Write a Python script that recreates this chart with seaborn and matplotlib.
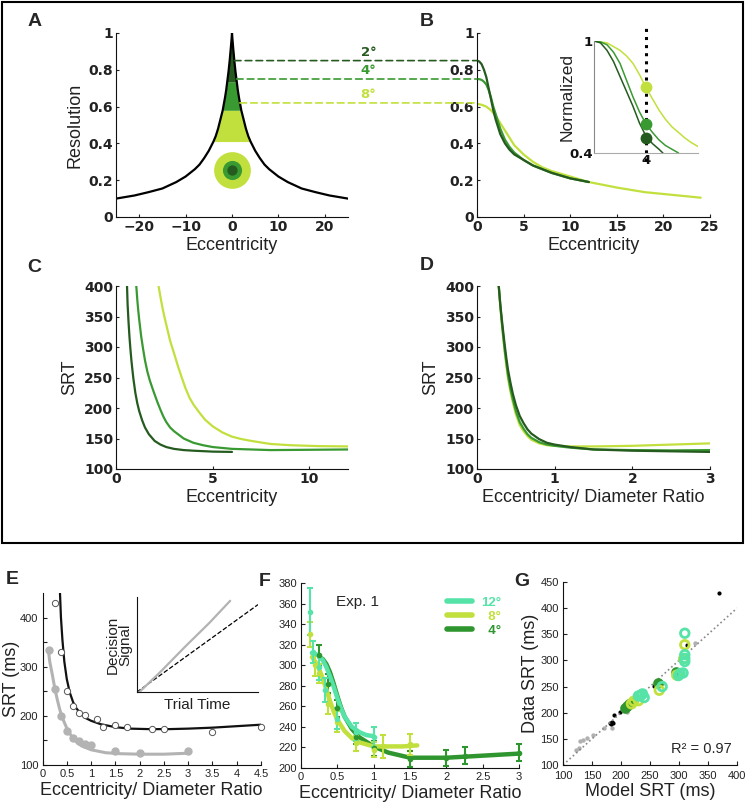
import numpy as np
import matplotlib
matplotlib.use("Agg")
import matplotlib.pyplot as plt
from matplotlib.patches import ConnectionPatch, Rectangle
from matplotlib.lines import Line2D
import seaborn as sns

# colours
DARK = "#255b1f"
MID = "#3a9a32"
LIGHT = "#c1e03d"
TURQ = "#55e3a8"
F_GREEN = "#2f962f"
GREY = "#b3b3b3"

# ---- panel A: resolution vs eccentricity (positive half, curve is symmetric)
res_ecc = [0, 0.1, 0.25, 0.5, 0.75, 1, 1.25, 1.5, 2, 2.5, 3, 3.5, 4, 5, 6, 7, 8, 10, 12, 15, 18, 21, 25]
res_val = [1.0, 0.965, 0.92, 0.85, 0.79, 0.74, 0.69, 0.65, 0.58, 0.53, 0.48, 0.44, 0.41, 0.36,
           0.32, 0.285, 0.26, 0.22, 0.19, 0.155, 0.135, 0.117, 0.10]
band_bottom = [0.41, 0.58, 0.735]
band_top = [0.58, 0.735, 1.0]
band_colors = [LIGHT, MID, DARK]
size_labels = ["2°", "4°", "8°"]
size_levels = [0.85, 0.75, 0.62]
size_colors = [DARK, MID, LIGHT]
level_start = [0.5, 0.95, 1.7]
fovea_xy = (0, 0.255)
fovea_size = [700, 190, 55]

# ---- panel B: resolution seen by each stimulus size
b_dark_x = [0, 0.25, 0.5, 0.75, 1, 1.25, 1.5, 1.75, 2, 2.5, 3, 3.5, 4, 5, 6, 7, 8, 10, 12]
b_dark_y = [0.85, 0.845, 0.83, 0.80, 0.76, 0.70, 0.64, 0.58, 0.53, 0.45, 0.40, 0.365, 0.34,
            0.31, 0.28, 0.26, 0.24, 0.21, 0.19]
b_mid_x = [0, 0.25, 0.5, 0.75, 1, 1.25, 1.5, 1.75, 2, 2.5, 3, 3.5, 4, 5, 6, 7, 8, 10, 12]
b_mid_y = [0.75, 0.749, 0.745, 0.735, 0.72, 0.69, 0.65, 0.60, 0.56, 0.48, 0.42, 0.38, 0.35,
           0.31, 0.28, 0.26, 0.24, 0.21, 0.19]
b_light_x = [0, 0.5, 1, 1.5, 2, 2.5, 3, 3.5, 4, 5, 6, 7, 8, 10, 12, 15, 18, 21, 24]
b_light_y = [0.615, 0.61, 0.60, 0.58, 0.55, 0.51, 0.47, 0.43, 0.39, 0.34, 0.30, 0.27,
             0.25, 0.22, 0.19, 0.16, 0.135, 0.12, 0.105]
# inset: normalized
in_dark_x = [0, 0.5, 1, 1.5, 2, 2.5, 3, 3.5, 4, 4.5, 5, 5.3]
in_dark_y = [1, 0.99, 0.95, 0.89, 0.81, 0.73, 0.65, 0.56, 0.49, 0.45, 0.42, 0.40]
in_mid_x = [0, 0.5, 1, 1.5, 2, 2.5, 3, 3.5, 4, 4.5, 5, 5.5, 6, 6.5]
in_mid_y = [1, 0.995, 0.98, 0.94, 0.88, 0.79, 0.70, 0.62, 0.555, 0.51, 0.47, 0.44, 0.42, 0.40]
in_light_x = [0, 1, 2, 2.5, 3, 3.5, 4, 4.5, 5, 5.5, 6, 6.5, 7, 7.5, 8]
in_light_y = [1, 0.99, 0.95, 0.92, 0.88, 0.82, 0.75, 0.69, 0.63, 0.58, 0.54, 0.51, 0.48, 0.455, 0.435]
probe_ecc = 4
probe_vals = [0.755, 0.555, 0.48]
probe_colors = [LIGHT, MID, DARK]

# ---- panel C: SRT vs eccentricity
c_dark_x = [0.57, 0.6, 0.65, 0.7, 0.75, 0.8, 0.85, 0.9, 1.0, 1.1, 1.2, 1.35, 1.5, 1.7, 2.0,
            2.3, 2.6, 3.0, 3.5, 4.0, 5.0, 6.0]
c_dark_y = [400, 370, 340, 315, 295, 277, 262, 248, 225, 208, 195, 180, 168, 157, 146,
            140, 136, 133, 131, 130, 128.5, 128]
c_mid_x = [1.05, 1.1, 1.15, 1.2, 1.3, 1.4, 1.5, 1.62, 1.75, 1.9, 2.0, 2.15, 2.3, 2.45, 2.6,
           2.8, 3.0, 3.25, 3.5, 4.0, 4.5, 5.0, 6.0, 7.0, 8.0, 10.0, 12.0]
c_mid_y = [400, 378, 360, 345, 318, 297, 278, 260, 245, 231, 222, 209, 197, 186, 177,
           168, 162, 156, 150, 143, 139, 136, 133, 132, 131, 131.5, 132]
c_light_x = [2.2, 2.3, 2.4, 2.5, 2.65, 2.8, 3.0, 3.2, 3.4, 3.6, 3.8, 4.0, 4.3, 4.6, 5.0,
             5.5, 6.0, 6.5, 7.0, 8.0, 9.0, 10.5, 12.0]
c_light_y = [400, 382, 365, 350, 330, 310, 290, 269, 250, 232, 217, 206, 193, 181, 170,
             160, 153, 149, 146, 141, 139, 137.5, 137]

# ---- panel D: SRT vs eccentricity / diameter
d_x = [0.28, 0.3, 0.32, 0.34, 0.36, 0.38, 0.40, 0.43, 0.46, 0.5, 0.55, 0.6, 0.65, 0.7, 0.8,
       0.9, 1.0, 1.2, 1.5, 2.0, 2.5, 3.0]
d_dark_y = [400, 370, 345, 322, 300, 280, 262, 242, 224, 205, 187, 175, 165, 158, 149,
            143, 140, 136, 132, 130, 129, 128]
d_mid_y = [400, 368, 340, 315, 292, 272, 253, 232, 215, 195, 177, 166, 157, 151, 144,
           140, 138, 135, 132, 131, 130.5, 131]
d_light_y = [400, 366, 338, 312, 288, 267, 248, 227, 210, 190, 172, 162, 154, 148, 142,
             139, 138, 137, 137, 138, 140, 142]

# ---- panel E: monkey data and fits
e_open_x = [0.25, 0.375, 0.5, 0.625, 0.75, 0.875, 1.125, 1.25, 1.5, 1.75, 2.25, 2.5, 3.5, 4.5]
e_open_y = [429, 330, 250, 221, 206, 201, 193, 178, 182, 178, 174, 174, 167, 178]
e_fill_x = [0.125, 0.25, 0.375, 0.5, 0.625, 0.75, 0.875, 1.0, 1.5, 2.0, 3.0]
e_fill_y = [334, 255, 199, 170, 155, 149, 142, 141, 129, 125, 128]
e_fit1_x = [0.36, 0.38, 0.41, 0.45, 0.5, 0.56, 0.63, 0.7, 0.8, 0.9, 1.0, 1.2, 1.5, 1.8,
            2.2, 2.6, 3.0, 3.5, 4.0, 4.5]
e_fit1_y = [450, 400, 355, 310, 275, 248, 228, 215, 203, 195, 190, 183, 177, 174,
            173, 173, 174, 176, 179, 182]
e_fit2_x = [0.12, 0.15, 0.2, 0.25, 0.3, 0.35, 0.4, 0.5, 0.6, 0.7, 0.8, 1.0, 1.3, 1.6, 2.0, 2.5, 3.0]
e_fit2_y = [334, 310, 285, 258, 235, 215, 198, 175, 158, 147, 139, 131, 125, 123, 122, 122, 124]
ei_grey_x = [0.02, 0.2, 0.4, 0.6, 0.77]
ei_grey_y = [0.0, 0.22, 0.48, 0.73, 0.96]
ei_dash_x = [0, 1]
ei_dash_y = [0, 0.92]

# ---- panel F: Exp. 1
f12_x = [0.125, 0.167, 0.25, 0.333, 0.5, 0.75, 1.0]
f12_y = [352, 313, 298, 276, 248, 235, 230]
f12_e = [23, 11, 12, 12, 10, 9, 10]
f12_fx = [0.15, 0.2, 0.25, 0.3, 0.35, 0.4, 0.45, 0.5, 0.55, 0.6, 0.7, 0.8, 0.9, 1.0]
f12_fy = [312, 311, 309, 305, 298, 289, 279, 268, 258, 250, 240, 235, 232, 231]
f8_x = [0.125, 0.19, 0.25, 0.375, 0.5, 0.75, 1.0, 1.125, 1.5]
f8_y = [330, 300, 292, 262, 245, 224, 218, 221, 223]
f8_e = [12, 10, 9, 9, 10, 7, 7, 11, 10]
f8_fx = [0.15, 0.2, 0.25, 0.3, 0.35, 0.4, 0.45, 0.5, 0.6, 0.7, 0.8, 1.0, 1.2, 1.4, 1.6]
f8_fy = [308, 303, 296, 287, 276, 265, 255, 247, 236, 229, 225, 221, 221, 221, 222]
f4_x = [0.25, 0.375, 0.5, 0.75, 1.0, 1.5, 2.0, 2.25, 3.0]
f4_y = [310, 282, 258, 230, 219, 209, 210, 212, 215]
f4_e = [10, 9, 8, 7, 7, 8, 8, 8, 8]
f4_fx = [0.25, 0.3, 0.35, 0.4, 0.45, 0.5, 0.55, 0.6, 0.7, 0.8, 1.0, 1.2, 1.5, 2.0, 2.5, 3.0]
f4_fy = [308, 306, 301, 293, 282, 270, 259, 250, 238, 230, 221, 215, 210, 210, 212, 214]
f_labels = ["12°", "  8°", "  4°"]
f_colors = [TURQ, LIGHT, F_GREEN]

# ---- panel G: model vs data
g_black_x = [369, 313, 257, 222, 205, 198, 188, 184, 181, 187, 183]
g_black_y = [429, 330, 252, 224, 208, 202, 196, 183, 180, 181, 178]
g_grey_x = [328, 273, 211, 185, 171, 151, 141, 135, 129, 127, 122]
g_grey_y = [333, 256, 202, 170, 171, 157, 151, 148, 145, 132, 129]
g_turq_x = [310, 310, 310, 310, 302, 307, 299, 271, 237, 240, 230, 234]
g_turq_y = [352, 311, 304, 298, 275, 276, 271, 250, 236, 229, 232, 233]
g_yel_x = [310, 308, 296, 266, 222, 230, 218]
g_yel_y = [330, 303, 272, 243, 222, 223, 217]
g_grn_x = [294, 264, 214, 210, 217, 207]
g_grn_y = [278, 256, 217, 212, 219, 209]
g_ref = [100, 400]

sns.set_style("ticks")
plt.rcParams['font.family'] = ['Liberation Sans', 'DejaVu Sans']
plt.rcParams['xtick.direction'] = 'in'
plt.rcParams['ytick.direction'] = 'in'
plt.rcParams['axes.edgecolor'] = '#111111'
plt.rcParams['axes.labelcolor'] = '#222222'

W, H = 748, 807
fig = plt.figure(figsize=(W / 100, H / 100), dpi=100)


def px_axes(left, top, right, bottom):
    return fig.add_axes([left / W, 1 - bottom / H, (right - left) / W, (bottom - top) / H])


def bold_ticks(ax, size=10):
    for t in ax.get_xticklabels() + ax.get_yticklabels():
        t.set_fontweight('bold')
        t.set_fontfamily('DejaVu Sans')
        t.set_fontsize(size)


def style_top(ax, xl, yl=None):
    sns.despine(ax=ax)
    ax.tick_params(length=2.5, width=0.8, colors='#222222', pad=2)
    bold_ticks(ax)
    ax.set_xlabel(xl, fontsize=13, labelpad=2)
    if yl:
        ax.set_ylabel(yl, fontsize=13, labelpad=4)


def style_bottom(ax):
    sns.despine(ax=ax)
    ax.tick_params(labelsize=8, length=3, width=0.8, colors='#222222', pad=3)


def line(ax, x, y, c, lw=1.6, **kw):
    sns.lineplot(x=x, y=y, ax=ax, color=c, lw=lw, estimator=None, sort=False, legend=False, **kw)


# ---------------- A
axA = px_axes(116, 33, 348, 217)
e_full = np.concatenate([-np.array(res_ecc[::-1]), np.array(res_ecc[1:])])
r_full = np.concatenate([np.array(res_val[::-1]), np.array(res_val[1:])])
for lo, hi, c in zip(band_bottom, band_top, band_colors):
    axA.fill_between(e_full, lo, np.minimum(r_full, hi), where=r_full >= lo,
                     interpolate=True, color=c, lw=0)
line(axA, e_full, r_full, 'black', lw=1.6)
for s, c in zip(fovea_size, [LIGHT, MID, DARK]):
    axA.scatter([fovea_xy[0]], [fovea_xy[1]], s=s, color=c, lw=0, zorder=3)
axA.set_xlim(-25, 25)
axA.set_ylim(0, 1)
axA.set_xticks([-20, -10, 0, 10, 20])
axA.set_xticklabels(["\u221220", "\u221210", "0", "10", "20"])
axA.set_yticks([0, 0.2, 0.4, 0.6, 0.8, 1])
axA.set_yticklabels(["0", "0.2", "0.4", "0.6", "0.8", "1"])
style_top(axA, "Eccentricity", "Resolution")

# ---------------- B
axB = px_axes(477, 33, 710, 217)
line(axB, b_light_x, b_light_y, LIGHT)
line(axB, b_mid_x, b_mid_y, MID)
line(axB, b_dark_x, b_dark_y, DARK)
axB.set_xlim(0, 25)
axB.set_ylim(0, 1)
axB.set_xticks([0, 5, 10, 15, 20, 25])
axB.set_yticks([0, 0.2, 0.4, 0.6, 0.8, 1])
axB.set_yticklabels(["0", "0.2", "0.4", "0.6", "0.8", "1"])
style_top(axB, "Eccentricity")

for lab, lvl, x0, c in zip(size_labels, size_levels, level_start, size_colors):
    con = ConnectionPatch(xyA=(x0, lvl), coordsA=axA.transData, xyB=(0, lvl),
                          coordsB=axB.transData, ls=(0, (4, 2.5)), color=c, lw=1.2)
    fig.add_artist(con)
    axA.text(29.4, lvl + 0.045, lab, color=c, fontsize=9.5, fontweight='bold',
             family='DejaVu Sans', ha='center', va='center', clip_on=False)

axIn = px_axes(594, 41, 698, 153)
line(axIn, in_light_x, in_light_y, LIGHT, lw=1.1)
line(axIn, in_mid_x, in_mid_y, MID, lw=1.1)
line(axIn, in_dark_x, in_dark_y, DARK, lw=1.1)
axIn.axvline(probe_ecc, ymin=-0.07, ymax=1.12, color='black', ls=':', lw=2.2, clip_on=False)
for v, c in zip(probe_vals, probe_colors):
    axIn.plot([probe_ecc], [v], 'o', color=c, ms=7.5, zorder=4)
axIn.set_xlim(0, 8)
axIn.set_ylim(0.4, 1)
axIn.set_xticks([probe_ecc])
axIn.set_yticks([0.4, 1])
axIn.set_yticklabels(["0.4", "1"])
sns.despine(ax=axIn)
axIn.spines['bottom'].set_color('#aaaaaa')
axIn.spines['left'].set_color('#888888')
axIn.tick_params(length=0, pad=1, colors='#111111')
bold_ticks(axIn, 9.5)
axIn.set_ylabel("Normalized", fontsize=12.5)
axIn.yaxis.set_label_coords(-0.19, 0.5)

# ---------------- C
axC = px_axes(116, 286, 348, 469)
line(axC, c_light_x, c_light_y, LIGHT)
line(axC, c_mid_x, c_mid_y, MID)
line(axC, c_dark_x, c_dark_y, DARK)
axC.set_xlim(0, 12)
axC.set_ylim(100, 400)
axC.set_xticks([0, 5, 10])
axC.set_yticks(range(100, 401, 50))
style_top(axC, "Eccentricity", "SRT")

# ---------------- D
axD = px_axes(477, 286, 710, 469)
line(axD, d_x, d_light_y, LIGHT)
line(axD, d_x, d_mid_y, MID)
line(axD, d_x, d_dark_y, DARK)
axD.set_xlim(0, 3)
axD.set_ylim(100, 400)
axD.set_xticks([0, 1, 2, 3])
axD.set_yticks(range(100, 401, 50))
style_top(axD, "Eccentricity/ Diameter Ratio", "SRT")

# frame round A-D
fig.add_artist(Rectangle((2 / W, 1 - 543 / H), 741 / W, 541 / H, transform=fig.transFigure,
                         fill=False, lw=1.5, ec='black'))

# ---------------- E
axE = px_axes(42.5, 593, 261, 765)
line(axE, e_fit2_x, e_fit2_y, GREY, lw=2.2)
line(axE, e_fit1_x, e_fit1_y, '#111111', lw=1.6)
axE.plot(e_fill_x, e_fill_y, 'o', color=GREY, ms=5, lw=0)
axE.plot(e_open_x, e_open_y, 'o', mfc='white', mec='#555555', mew=0.7, ms=4.5, lw=0, clip_on=False)
axE.set_xlim(0, 4.5)
axE.set_ylim(100, 450)
axE.set_xticks(np.arange(0, 4.51, 0.5))
axE.set_xticklabels(["0", "0.5", "1", "1.5", "2", "2.5", "3", "3.5", "4", "4.5"])
axE.set_yticks(range(100, 401, 50))
axE.set_yticklabels(["100", "", "200", "", "300", "", "400"])
style_bottom(axE)
axE.set_xlabel("Eccentricity/ Diameter Ratio", fontsize=13, labelpad=2)
axE.set_ylabel("SRT (ms)", fontsize=13, labelpad=0)

axEi = px_axes(137, 597, 258, 692)
line(axEi, ei_dash_x, ei_dash_y, 'black', lw=0.9, ls='--')
line(axEi, ei_grey_x, ei_grey_y, GREY, lw=1.6)
axEi.set_xlim(0, 1)
axEi.set_ylim(0, 1)
axEi.set_xticks([])
axEi.set_yticks([])
sns.despine(ax=axEi)
axEi.spines['left'].set_linewidth(0.8)
axEi.spines['bottom'].set_linewidth(0.8)
axEi.set_xlabel("Trial Time", fontsize=11, labelpad=4)
axEi.set_ylabel("Decision\nSignal", fontsize=11, labelpad=3, linespacing=0.95)

# ---------------- F
axF = px_axes(301, 583, 519, 768)
for fx, fy, x, y, e, c in [(f4_fx, f4_fy, f4_x, f4_y, f4_e, F_GREEN),
                           (f8_fx, f8_fy, f8_x, f8_y, f8_e, LIGHT),
                           (f12_fx, f12_fy, f12_x, f12_y, f12_e, TURQ)]:
    line(axF, fx, fy, c, lw=3.2)
    axF.errorbar(x, y, yerr=e, fmt='o', ms=3, color=c, ecolor=c, elinewidth=1.5,
                 capsize=2.5, capthick=1.5, clip_on=False)
axF.set_xlim(0, 3)
axF.set_ylim(200, 380)
axF.set_xticks(np.arange(0, 3.01, 0.5))
axF.set_xticklabels(["0", "0.5", "1", "1.5", "2", "2.5", "3"])
axF.set_yticks(range(200, 381, 20))
style_bottom(axF)
axF.set_xlabel("Eccentricity/ Diameter Ratio", fontsize=13, labelpad=2)
axF.text(0.257, 0.897, "Exp. 1", transform=axF.transAxes, fontsize=11, ha='center', va='center')
handles = [Line2D([], [], color=c, lw=4) for c in f_colors]
axF.legend(handles, f_labels, loc='upper right', bbox_to_anchor=(0.96, 0.975), frameon=False,
           handlelength=1.9, handletextpad=0.7, labelspacing=0.12, borderpad=0.2,
           labelcolor=f_colors, prop={'weight': 'bold', 'size': 9.5})

# ---------------- G
axG = px_axes(563, 582, 737, 765)
line(axG, g_ref, g_ref, '#888888', lw=1.2, ls=':')
sns.scatterplot(x=g_grey_x, y=g_grey_y, ax=axG, color='#b0b0b0', s=10, lw=0, legend=False)
sns.scatterplot(x=g_black_x, y=g_black_y, ax=axG, color='black', s=9, lw=0, legend=False)
axG.scatter(g_grn_x, g_grn_y, s=38, facecolors=F_GREEN, edgecolors=F_GREEN, lw=1.5, zorder=3)
axG.scatter(g_yel_x, g_yel_y, s=38, facecolors='none', edgecolors=LIGHT, lw=2, zorder=3)
axG.scatter(g_turq_x, g_turq_y, s=38, facecolors='none', edgecolors=TURQ, lw=2, zorder=3)
axG.set_xlim(100, 400)
axG.set_ylim(100, 450)
axG.set_xticks(range(100, 401, 50))
axG.set_yticks(range(100, 451, 50))
style_bottom(axG)
axG.tick_params(axis='x', pad=4)
axG.set_xlabel("Model SRT (ms)", fontsize=13, labelpad=2)
axG.set_ylabel("Data SRT (ms)", fontsize=13, labelpad=1)
axG.text(0.97, 0.085, "R² = 0.97", transform=axG.transAxes, fontsize=10.5, ha='right', va='center')

# panel letters
for lab, (px, py) in zip("ABCDEFG", [(35, 22), (427, 22), (34, 267), (427, 265),
                                     (12, 580), (265, 582), (522, 582)]):
    fig.text(px / W, 1 - py / H, lab, fontsize=14, fontweight='bold', ha='center', va='center')

fig.savefig("out.png", dpi=100)
